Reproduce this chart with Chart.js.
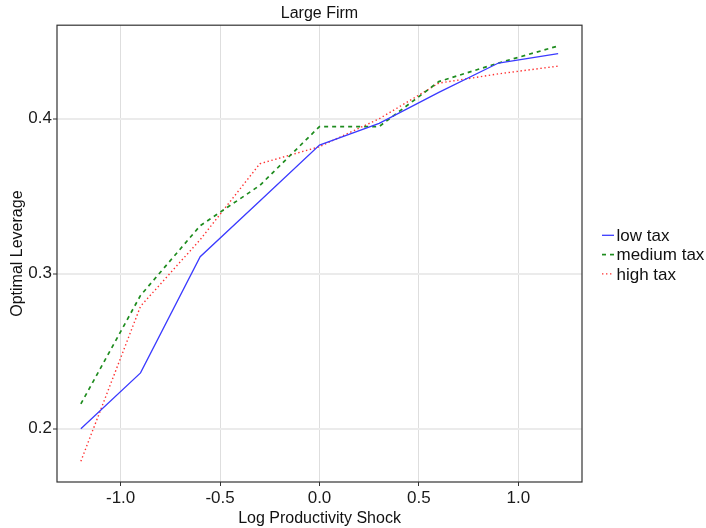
<!DOCTYPE html>
<html><head><meta charset="utf-8">
<script src="https://cdn.jsdelivr.net/npm/chart.js@4/dist/chart.umd.min.js"></script>
<style>html,body{margin:0;padding:0;background:#fff}#wrap{width:706px;height:528px}</style>
</head><body><div id="wrap"><canvas id="c" width="706" height="528"></canvas></div>
<script>
const shocks = [-1.2, -0.9, -0.6, -0.3, 0.0, 0.3, 0.6, 0.9, 1.2];
const lowTax = [0.200, 0.236, 0.311, 0.347, 0.383, 0.397, 0.417, 0.436, 0.442];
const mediumTax = [0.216, 0.286, 0.331, 0.357, 0.395, 0.395, 0.424, 0.436, 0.447];
const highTax = [0.179, 0.279, 0.322, 0.371, 0.382, 0.400, 0.423, 0.429, 0.434];
const seriesNames = ['low tax', 'medium tax', 'high tax'];
const xTicks = [-1.0, -0.5, 0.0, 0.5, 1.0];
const yTicks = [0.2, 0.3, 0.4];
const titleText = 'Large Firm';
const xTitle = 'Log Productivity Shock';
const yTitle = 'Optimal Leverage';

const FONT = '"Liberation Sans", Arial, Helvetica, sans-serif';
const pts = arr => shocks.map((x, i) => ({x: x, y: arr[i]}));

const panelBorder = {
  id: 'panelBorder',
  afterDatasetsDraw(chart) {
    const {ctx, chartArea: a} = chart;
    ctx.save();
    ctx.strokeStyle = '#333333';
    ctx.lineWidth = 1.2;
    ctx.setLineDash([]);
    ctx.strokeRect(a.left, a.top, a.right - a.left, a.bottom - a.top);
    ctx.restore();
  }
};

const sideLegend = {
  id: 'sideLegend',
  afterDraw(chart) {
    const {ctx, chartArea: a} = chart;
    const ds = chart.data.datasets;
    const spacing = 19.3;
    const cy = (a.top + a.bottom) / 2 + 1;
    const x0 = a.right + 20;
    ds.forEach((d, i) => {
      const y = cy + (i - (ds.length - 1) / 2) * spacing;
      ctx.save();
      ctx.strokeStyle = d.borderColor;
      ctx.lineWidth = d.borderWidth;
      ctx.setLineDash(d.borderDash || []);
      ctx.beginPath();
      ctx.moveTo(x0, y);
      ctx.lineTo(x0 + 12, y);
      ctx.stroke();
      ctx.setLineDash([]);
      ctx.fillStyle = '#111';
      ctx.font = '17px ' + FONT;
      ctx.textBaseline = 'middle';
      ctx.textAlign = 'left';
      ctx.fillText(d.label, x0 + 14.5, y + 1);
      ctx.restore();
    });
  }
};

new Chart(document.getElementById('c'), {
  type: 'line',
  data: {
    datasets: [
      {label: seriesNames[0], data: pts(lowTax), borderColor: '#3b3bff', borderWidth: 1.3, borderDash: [], pointRadius: 0, fill: false, tension: 0},
      {label: seriesNames[1], data: pts(mediumTax), borderColor: '#1e8c1e', borderWidth: 1.7, borderDash: [4, 4], pointRadius: 0, fill: false, tension: 0},
      {label: seriesNames[2], data: pts(highTax), borderColor: '#ff3030', borderWidth: 1.4, borderDash: [1.4, 2.6], pointRadius: 0, fill: false, tension: 0}
    ]
  },
  options: {
    responsive: false,
    devicePixelRatio: 1,
    animation: false,
    layout: {padding: {left: 0, right: 124, top: 0, bottom: 0}},
    plugins: {
      legend: {display: false},
      tooltip: {enabled: false},
      title: {
        display: true, text: titleText, fullSize: false, color: '#111',
        font: {family: FONT, size: 16, weight: 'normal'},
        padding: {top: 3.5, bottom: 2.5}
      }
    },
    scales: {
      x: {
        type: 'linear', min: -1.32, max: 1.32,
        afterBuildTicks: s => { s.ticks = xTicks.map(v => ({value: v})); },
        afterFit: s => { s.height = 46; },
        ticks: {color: '#1a1a1a', font: {family: FONT, size: 17}, padding: 2, maxRotation: 0,
          callback: v => v.toFixed(1)},
        grid: {color: '#dedede', lineWidth: 1, tickLength: 4, tickColor: '#333', tickWidth: 1},
        border: {display: false},
        title: {display: true, text: xTitle, color: '#111', font: {family: FONT, size: 16}, padding: {top: 0, bottom: 0}}
      },
      y: {
        type: 'linear', min: 0.1656, max: 0.4604,
        afterBuildTicks: s => { s.ticks = yTicks.map(v => ({value: v})); },
        afterFit: s => { s.width = 57; },
        ticks: {color: '#1a1a1a', font: {family: FONT, size: 17}, padding: 1,
          callback: v => v.toFixed(1)},
        grid: {color: '#ebebeb', lineWidth: 2, tickLength: 4, tickColor: '#333', tickWidth: 1},
        border: {display: false},
        title: {display: true, text: yTitle, color: '#111', font: {family: FONT, size: 16}, padding: {top: 8, bottom: 0}}
      }
    }
  },
  plugins: [panelBorder, sideLegend]
});
</script></body></html>
